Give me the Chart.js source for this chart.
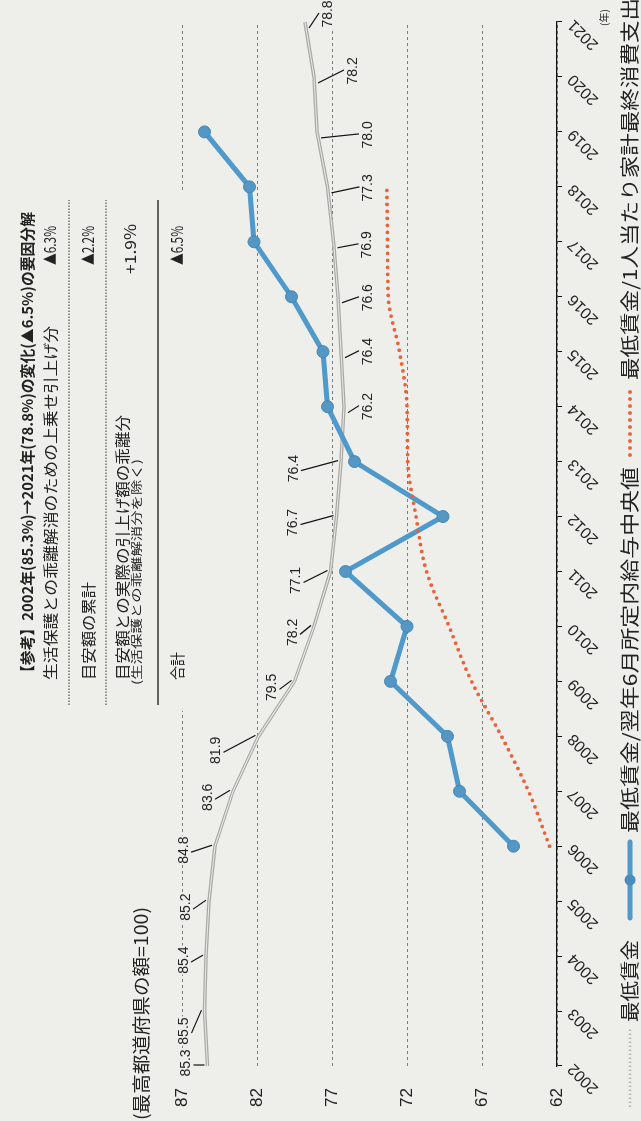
<!DOCTYPE html>
<html>
<head>
<meta charset="utf-8">
<script src="https://cdn.jsdelivr.net/npm/chart.js@4/dist/chart.umd.min.js"></script>
<style>
  html, body { margin: 0; padding: 0; overflow: hidden; background: #eeeeeb; }
  #wrap {
    position: absolute; left: 0; top: 0;
    width: 1121px; height: 641px;
    transform-origin: 0 0;
    transform: translate(0, 1121px) rotate(-90deg);
  }
</style>
</head>
<body>
<div id="wrap"><canvas id="chart" width="1121" height="641"></canvas></div>
<script>
// data
var years = ['2002', '2003', '2004', '2005', '2006', '2007', '2008', '2009', '2010', '2011',
  '2012', '2013', '2014', '2015', '2016', '2017', '2018', '2019', '2020', '2021'];
var minWage = [85.3, 85.5, 85.4, 85.2, 84.8, 83.6, 81.9, 79.5, 78.2, 77.1,
  76.7, 76.4, 76.2, 76.4, 76.6, 76.9, 77.3, 78.0, 78.2, 78.8];
var vsMedianWage = [null, null, null, null, 64.9, 68.5, 69.3, 73.1, 72.0, 76.1,
  69.6, 75.5, 77.3, 77.6, 79.7, 82.2, 82.5, 85.5, null, null];
var vsConsumption = [null, null, null, null, 62.5, 63.9, 65.7, 67.7, 69.2, 70.7,
  71.4, 71.95, 72.0, 72.5, 73.25, 73.3, 73.35, null, null, null];
var yTicks = [62, 67, 72, 77, 82, 87];

var legendNames = ['最低賃金', '最低賃金/翌年6月所定内給与中央値', '最低賃金/1人当たり家計最終消費支出'];
var tableTitle = '【参考】2002年(85.3%)→2021年(78.8%)の変化(▲6.5%)の要因分解';
var tableRows = [
  ['生活保護との乖離解消のための上乗せ引上げ分', '▲6.3%'],
  ['目安額の累計', '▲2.2%'],
  ['目安額との実際の引上げ額の乖離分', '+1.9%'],
  ['合計', '▲6.5%']
];
var tableNote = '(生活保護との乖離解消分を除く)';

// where each value label of 最低賃金 sits relative to its point (px)
var labelShift = [[3, -22], [-20, -21], [-4, -23], [-6, -24], [-4, -32], [-6, -26], [-14, -43],
  [-6, -23], [-6, -22], [-9, -35], [-6, -44], [-7, -48], [0, 23], [0, 26], [-1, 29], [-3, 33],
  [-1, 40], [-3, 50], [6, 38], [8, 22]];

var PAPER = '#eeeeeb';
var INK = '#222';
var NUM_FONT = "'Liberation Sans Narrow', 'Liberation Sans', sans-serif";
var JP_FONT = "'Noto Sans CJK JP', sans-serif";

function fitText(ctx, text, x, y, w) {
  var m = ctx.measureText(text).width;
  ctx.save();
  ctx.translate(x, y);
  ctx.scale(w / m, 1);
  ctx.textAlign = 'left';
  ctx.fillText(text, 0, 0);
  ctx.restore();
}

var decorations = {
  id: 'decorations',
  beforeDatasetsDraw: function (chart) {
    var ctx = chart.ctx;
    // the table sits on plain paper, hiding the top grid line
    ctx.save();
    ctx.fillStyle = PAPER;
    ctx.fillRect(410, 0, 520, 192);
    ctx.restore();
  },
  afterDatasetsDraw: function (chart) {
    var ctx = chart.ctx;
    var meta = chart.getDatasetMeta(3); // the 最低賃金 line
    ctx.save();
    ctx.font = '14px ' + NUM_FONT;
    ctx.textAlign = 'center';
    ctx.textBaseline = 'middle';
    meta.data.forEach(function (p, i) {
      var lx = p.x + labelShift[i][0];
      var ly = p.y + labelShift[i][1];
      var txt = minWage[i].toFixed(1);
      var w = ctx.measureText(txt).width;
      ctx.fillStyle = PAPER;
      ctx.fillRect(lx - w / 2 - 1, ly - 6, w + 2, 12);
      ctx.fillStyle = INK;
      ctx.fillText(txt, lx, ly + 1);
      ctx.strokeStyle = '#111';
      ctx.lineWidth = 1.2;
      ctx.beginPath();
      if (labelShift[i][1] < 0) {
        ctx.moveTo(lx - 2, ly + 8);
        ctx.lineTo(p.x + 1, p.y - 3);
      } else {
        ctx.moveTo(p.x - 6, p.y + 4);
        ctx.lineTo(lx + 1, ly - 8);
      }
      ctx.stroke();
    });
    ctx.restore();
  },
  afterDraw: function (chart) {
    var ctx = chart.ctx;
    ctx.save();
    ctx.fillStyle = INK;
    ctx.textBaseline = 'middle';

    // unit note
    ctx.font = '18px ' + JP_FONT;
    fitText(ctx, '(最高都道府県の額=100)', 1, 141, 213);
    ctx.font = '10px ' + JP_FONT;
    ctx.fillText('(年)', 1095, 604);

    // table
    ctx.font = 'bold 15px ' + JP_FONT;
    fitText(ctx, tableTitle, 441, 27, 468);
    var rowY = [50, 88, 122, 177];
    var rowW = [354, 98, 265, 28];
    tableRows.forEach(function (r, i) {
      ctx.font = '15px ' + JP_FONT;
      fitText(ctx, r[0], 441, rowY[i], rowW[i]);
      ctx.font = '15.5px ' + JP_FONT;
      fitText(ctx, r[1], i == 2 ? 847 : 856, i == 2 ? 130 : rowY[i], i == 2 ? 50 : 39);
    });
    ctx.font = '11.5px ' + JP_FONT;
    fitText(ctx, tableNote, 436, 137, 226);

    ctx.strokeStyle = '#333';
    ctx.lineWidth = 1;
    ctx.setLineDash([1.5, 1.5]);
    [69, 106].forEach(function (y) {
      ctx.beginPath(); ctx.moveTo(416, y); ctx.lineTo(921, y); ctx.stroke();
    });
    ctx.setLineDash([]);
    ctx.lineWidth = 1.3;
    ctx.beginPath(); ctx.moveTo(416, 158); ctx.lineTo(921, 158); ctx.stroke();

    // legend
    var ly = 630;
    ctx.strokeStyle = '#b9b9b6';
    ctx.lineWidth = 2.5;
    ctx.setLineDash([1.5, 2.5]);
    ctx.beginPath(); ctx.moveTo(14, ly); ctx.lineTo(94, ly); ctx.stroke();
    ctx.setLineDash([]);
    ctx.font = '19px ' + JP_FONT;
    fitText(ctx, legendNames[0], 99, ly, 82);

    ctx.strokeStyle = '#4f9acb';
    ctx.lineWidth = 5;
    ctx.lineCap = 'round';
    ctx.beginPath(); ctx.moveTo(203, ly); ctx.lineTo(279, ly); ctx.stroke();
    ctx.fillStyle = '#4a8dbb';
    ctx.beginPath(); ctx.arc(241, ly, 5.5, 0, Math.PI * 2); ctx.fill();
    ctx.fillStyle = INK;
    fitText(ctx, legendNames[1], 288, ly, 366);

    ctx.strokeStyle = '#e8623a';
    ctx.lineWidth = 3.8;
    ctx.setLineDash([0, 7]);
    ctx.beginPath(); ctx.moveTo(666, ly); ctx.lineTo(731, ly); ctx.stroke();
    ctx.setLineDash([]);
    fitText(ctx, legendNames[2], 741, ly, 382);
    ctx.restore();
  }
};

new Chart(document.getElementById('chart').getContext('2d'), {
  type: 'line',
  data: {
    labels: years,
    datasets: [
      {
        label: legendNames[2],
        data: vsConsumption,
        borderColor: '#e8623a',
        borderWidth: 3.8,
        borderDash: [0, 7],
        borderCapStyle: 'round',
        cubicInterpolationMode: 'monotone',
        pointRadius: 0,
        fill: false,
        order: 0
      },
      {
        label: legendNames[1],
        data: vsMedianWage,
        borderColor: '#4f9acb',
        borderWidth: 5,
        pointRadius: 6,
        pointBackgroundColor: '#5497c4',
        pointBorderColor: '#4686b3',
        pointBorderWidth: 1,
        fill: false,
        order: 1
      },
      {
        label: legendNames[0],
        data: minWage,
        borderColor: '#e9e9e6',
        borderWidth: 1.2,
        pointRadius: 0,
        fill: false,
        order: 2
      },
      {
        label: legendNames[0],
        data: minWage,
        borderColor: '#a9a9a6',
        borderWidth: 3.4,
        pointRadius: 0,
        fill: false,
        order: 3
      }
    ]
  },
  options: {
    responsive: false,
    animation: false,
    devicePixelRatio: 1,
    layout: { padding: { top: 182, right: 22, left: 0, bottom: 0 } },
    plugins: { legend: { display: false }, tooltip: { enabled: false } },
    scales: {
      x: {
        type: 'category',
        offset: false,
        afterFit: function (s) { s.height = 84; },
        grid: { drawOnChartArea: false, drawTicks: true, tickLength: 5, tickColor: '#111', tickWidth: 1 },
        border: { display: true, color: '#111', width: 1.3 },
        ticks: {
          autoSkip: false, minRotation: 45, maxRotation: 45, padding: 2,
          color: INK, font: { family: NUM_FONT, size: 16 }
        }
      },
      y: {
        min: 62,
        max: 87,
        afterFit: function (s) { s.width = 55; },
        afterBuildTicks: function (s) { s.ticks = yTicks.map(function (v) { return { value: v }; }); },
        grid: { drawTicks: false, color: '#6f6f6f', lineWidth: 0.9 },
        border: { display: false, dash: [3, 3] },
        ticks: { padding: 22, color: INK, font: { family: NUM_FONT, size: 17 } }
      }
    }
  },
  plugins: [decorations]
});
</script>
</body>
</html>
